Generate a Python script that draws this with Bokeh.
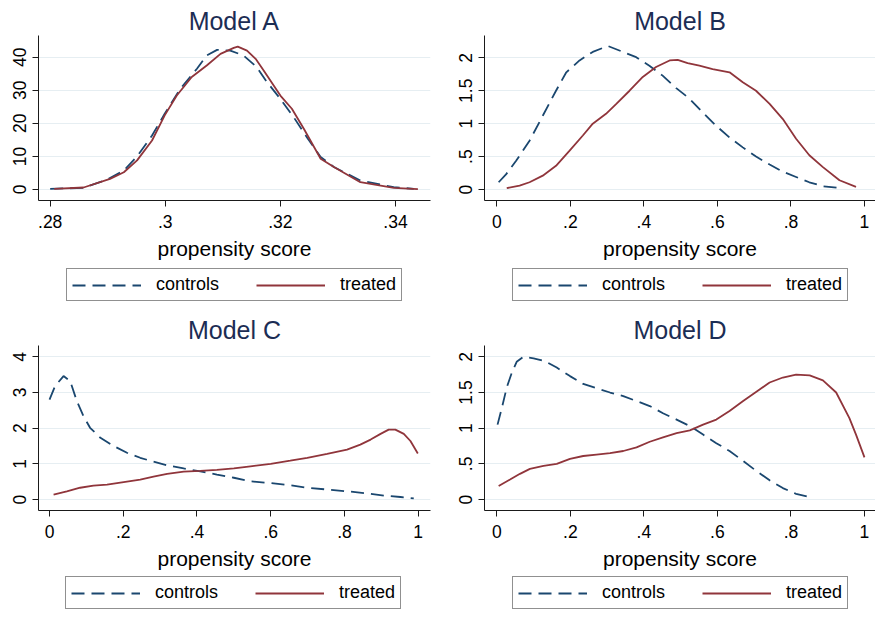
from bokeh.plotting import figure
from bokeh.layouts import gridplot
from bokeh.models import Legend, LegendItem, FixedTicker, Range1d
from bokeh.embed import file_html
from bokeh.resources import INLINE

FONT = "Liberation Sans"
NAVY = "#1a476f"
MAROON = "#90353b"
TITLE_COLOR = "#1c2d54"
GRID = "#e6eef2"
AXIS = "#1a1a1a"
LW = 1.8
DASH = "13 7"

titles = ["Model A", "Model B", "Model C", "Model D"]
x_axis_title = "propensity score"
legend_labels = ["controls", "treated"]

# ---- tick values / labels
a_x_ticks = [0.28, 0.30, 0.32, 0.34]
a_x_tick_labels = [".28", ".3", ".32", ".34"]
a_y_ticks = [0, 10, 20, 30, 40]
a_y_tick_labels = ["0", "10", "20", "30", "40"]
unit_x_ticks = [0, 0.2, 0.4, 0.6, 0.8, 1]
unit_x_tick_labels = ["0", ".2", ".4", ".6", ".8", "1"]
half_y_ticks = [0, 0.5, 1, 1.5, 2]
half_y_tick_labels = ["0", ".5", "1", "1.5", "2"]
c_y_ticks = [0, 1, 2, 3, 4]
c_y_tick_labels = ["0", "1", "2", "3", "4"]

# ---- Model A
a_ctrl_x = [0.2800, 0.2858, 0.2899, 0.2928, 0.2951, 0.2977, 0.2999, 0.3026, 0.3055, 0.3072,
            0.3090, 0.3113, 0.3136, 0.3159, 0.3177, 0.3200, 0.3223, 0.3246, 0.3270, 0.3293,
            0.3339, 0.3397, 0.3432]
a_ctrl_y = [0.2, 0.5, 3.0, 5.7, 10.0, 16.3, 22.9, 30.4, 36.5, 40.5,
            42.2, 42.0, 40.5, 37.0, 32.4, 27.4, 21.9, 15.8, 9.8, 6.8,
            2.7, 0.7, 0.2]
a_treat_x = [0.2807, 0.2858, 0.2904, 0.2928, 0.2951, 0.2977, 0.2999, 0.3020, 0.3046, 0.3072,
             0.3096, 0.3119, 0.3126, 0.3142, 0.3157, 0.3171, 0.3200, 0.3220, 0.3241, 0.3270,
             0.3293, 0.3339, 0.3397, 0.3439]
a_treat_y = [0.2, 0.6, 3.2, 5.2, 8.8, 14.8, 22.4, 28.4, 34.0, 37.5,
             41.0, 42.8, 43.2, 42.0, 39.5, 36.0, 28.4, 24.4, 18.3, 9.3,
             6.8, 2.2, 0.5, 0.1]

# ---- Model B
b_ctrl_x = [0.005, 0.025, 0.053, 0.089, 0.125, 0.161, 0.189, 0.225, 0.261, 0.302,
            0.343, 0.379, 0.415, 0.451, 0.488, 0.524, 0.560, 0.596, 0.633, 0.669,
            0.705, 0.742, 0.778, 0.814, 0.850, 0.887, 0.941]
b_ctrl_y = [0.11, 0.23, 0.44, 0.74, 1.12, 1.50, 1.78, 1.96, 2.09, 2.18,
            2.09, 2.01, 1.88, 1.73, 1.54, 1.38, 1.17, 0.97, 0.79, 0.64,
            0.50, 0.38, 0.27, 0.19, 0.11, 0.05, 0.02]
b_treat_x = [0.027, 0.062, 0.089, 0.125, 0.161, 0.198, 0.234, 0.261, 0.297, 0.325,
             0.361, 0.397, 0.433, 0.470, 0.492, 0.519, 0.551, 0.587, 0.633, 0.669,
             0.705, 0.742, 0.778, 0.814, 0.850, 0.887, 0.932, 0.977]
b_treat_y = [0.02, 0.06, 0.11, 0.21, 0.36, 0.59, 0.82, 1.00, 1.15, 1.30,
             1.50, 1.71, 1.86, 1.96, 1.97, 1.92, 1.88, 1.83, 1.78, 1.63,
             1.50, 1.30, 1.07, 0.77, 0.52, 0.34, 0.14, 0.04]

# ---- Model C
c_ctrl_x = [0.000, 0.015, 0.038, 0.056, 0.074, 0.092, 0.110, 0.138, 0.174, 0.210,
            0.246, 0.282, 0.319, 0.364, 0.409, 0.454, 0.500, 0.545, 0.600, 0.653,
            0.699, 0.753, 0.807, 0.862, 0.907, 0.952, 0.988]
c_ctrl_y = [2.80, 3.18, 3.46, 3.32, 2.76, 2.34, 2.01, 1.73, 1.50, 1.31,
            1.17, 1.06, 0.96, 0.87, 0.79, 0.70, 0.61, 0.51, 0.46, 0.40,
            0.33, 0.28, 0.23, 0.17, 0.11, 0.07, 0.03]
c_treat_x = [0.011, 0.047, 0.083, 0.119, 0.156, 0.201, 0.246, 0.282, 0.319, 0.364,
             0.409, 0.454, 0.500, 0.545, 0.600, 0.653, 0.699, 0.753, 0.807, 0.843,
             0.871, 0.898, 0.920, 0.938, 0.961, 0.979, 0.999]
c_treat_y = [0.14, 0.23, 0.33, 0.39, 0.42, 0.49, 0.56, 0.64, 0.72, 0.78,
             0.80, 0.83, 0.87, 0.93, 1.00, 1.09, 1.17, 1.28, 1.40, 1.54,
             1.68, 1.84, 1.96, 1.96, 1.84, 1.64, 1.29]

# ---- Model D
d_ctrl_x = [0.002, 0.014, 0.027, 0.041, 0.054, 0.072, 0.100, 0.131, 0.163, 0.199,
            0.235, 0.271, 0.308, 0.344, 0.380, 0.416, 0.452, 0.489, 0.525, 0.561,
            0.597, 0.633, 0.670, 0.706, 0.742, 0.778, 0.814, 0.855]
d_ctrl_y = [1.05, 1.29, 1.57, 1.78, 1.93, 2.00, 1.98, 1.94, 1.85, 1.73,
            1.62, 1.56, 1.50, 1.45, 1.38, 1.31, 1.21, 1.12, 1.03, 0.91,
            0.79, 0.68, 0.54, 0.40, 0.27, 0.16, 0.08, 0.03]
d_treat_x = [0.005, 0.036, 0.063, 0.090, 0.127, 0.163, 0.199, 0.235, 0.271, 0.308,
             0.344, 0.380, 0.416, 0.452, 0.489, 0.525, 0.561, 0.597, 0.633, 0.670,
             0.706, 0.742, 0.778, 0.814, 0.851, 0.887, 0.923, 0.959, 0.977, 1.000]
d_treat_y = [0.19, 0.28, 0.36, 0.43, 0.47, 0.50, 0.57, 0.61, 0.63, 0.65,
             0.68, 0.73, 0.81, 0.87, 0.93, 0.97, 1.05, 1.12, 1.24, 1.38,
             1.51, 1.64, 1.71, 1.75, 1.74, 1.67, 1.50, 1.14, 0.91, 0.59]


def panel(title, cx, cy, tx, ty, xr, yr, xt, xtl, yt, ytl,
          width, height, left, right, top, bottom, title_standoff):
    p = figure(width=width, height=height,
               x_range=Range1d(*xr), y_range=Range1d(*yr),
               output_backend="svg", toolbar_location=None,
               min_border_left=left, min_border_right=right,
               min_border_top=top, min_border_bottom=bottom,
               title=title)
    p.outline_line_color = None
    p.background_fill_color = "white"
    p.border_fill_color = "white"

    p.title.text_font = FONT
    p.title.text_font_size = "25px"
    p.title.text_font_style = "normal"
    p.title.text_color = TITLE_COLOR
    p.title.align = "center"
    p.title.standoff = title_standoff

    for ax in (p.xaxis[0], p.yaxis[0]):
        ax.axis_line_color = AXIS
        ax.axis_line_width = 1
        ax.major_tick_line_color = AXIS
        ax.major_tick_out = 6
        ax.major_tick_in = 0
        ax.minor_tick_line_color = None
        ax.major_label_text_font = FONT
        ax.major_label_text_font_size = "17.5px"
        ax.major_label_text_color = "black"

    p.xaxis.ticker = FixedTicker(ticks=xt)
    p.xaxis.major_label_overrides = {float(k): v for k, v in zip(xt, xtl)}
    p.xaxis.major_label_standoff = 8
    p.xaxis.axis_label = x_axis_title
    p.xaxis.axis_label_text_font = FONT
    p.xaxis.axis_label_text_font_size = "21px"
    p.xaxis.axis_label_text_font_style = "normal"
    p.xaxis.axis_label_text_color = "black"
    p.xaxis.axis_label_standoff = 6

    p.yaxis.ticker = FixedTicker(ticks=yt)
    p.yaxis.major_label_overrides = {float(k): v for k, v in zip(yt, ytl)}
    p.yaxis.major_label_orientation = "vertical"
    p.yaxis.major_label_standoff = 6

    p.xgrid.visible = False
    p.ygrid.ticker = FixedTicker(ticks=yt)
    p.ygrid.grid_line_color = GRID
    p.ygrid.grid_line_width = 1

    p.line(cx, cy, line_color=NAVY, line_width=LW, line_dash=DASH)
    p.line(tx, ty, line_color=MAROON, line_width=LW)
    return p


def legend_box(width, height, loc, cx, cy, tx, ty):
    # separate strip under each panel that carries only the legend
    q = figure(width=width, height=height, output_backend="svg",
               toolbar_location=None, x_axis_location=None, y_axis_location=None,
               min_border_left=0, min_border_right=0, min_border_top=0,
               min_border_bottom=0)
    q.outline_line_color = None
    q.background_fill_color = "white"
    q.border_fill_color = "white"
    q.xgrid.visible = False
    q.ygrid.visible = False
    rc = q.line(cx, cy, line_color=NAVY, line_width=LW, line_dash=DASH, visible=False)
    rt = q.line(tx, ty, line_color=MAROON, line_width=LW, visible=False)
    leg = Legend(items=[LegendItem(label=legend_labels[0], renderers=[rc]),
                        LegendItem(label=legend_labels[1], renderers=[rt])],
                 orientation="horizontal", location=loc)
    leg.click_policy = "none"
    leg.inactive_fill_alpha = 0
    leg.border_line_color = "#222222"
    leg.border_line_width = 1
    leg.background_fill_color = "white"
    leg.background_fill_alpha = 1
    leg.label_text_font = FONT
    leg.label_text_font_size = "18px"
    leg.label_text_line_height = 1.0
    leg.label_text_color = "black"
    leg.glyph_width = 69
    leg.glyph_height = 18
    leg.label_height = 18
    leg.label_standoff = 15
    leg.spacing = 37
    leg.padding = 5
    leg.margin = 0
    q.add_layout(leg)
    return q


pA = panel(titles[0], a_ctrl_x, a_ctrl_y, a_treat_x, a_treat_y,
           (0.27797, 0.34609), (-3.33, 46.55),
           a_x_ticks, a_x_tick_labels, a_y_ticks, a_y_tick_labels,
           440, 265, 38, 10, 35, 65, 2)
pB = panel(titles[1], b_ctrl_x, b_ctrl_y, b_treat_x, b_treat_y,
           (-0.0335, 1.030), (-0.167, 2.339),
           unit_x_ticks, unit_x_tick_labels, half_y_ticks, half_y_tick_labels,
           435, 265, 44, 0, 35, 65, 2)
pC = panel(titles[2], c_ctrl_x, c_ctrl_y, c_treat_x, c_treat_y,
           (-0.0299, 1.0334), (-0.308, 4.317),
           unit_x_ticks, unit_x_tick_labels, c_y_ticks, c_y_tick_labels,
           440, 269, 38, 10, 40, 64, 4)
pD = panel(titles[3], d_ctrl_x, d_ctrl_y, d_treat_x, d_treat_y,
           (-0.0335, 1.030), (-0.154, 2.159),
           unit_x_ticks, unit_x_tick_labels, half_y_ticks, half_y_tick_labels,
           435, 269, 44, 0, 40, 64, 4)

lA = legend_box(440, 40, (28, 4), a_ctrl_x, a_ctrl_y, a_treat_x, a_treat_y)
lB = legend_box(435, 40, (28, 4), b_ctrl_x, b_ctrl_y, b_treat_x, b_treat_y)
lC = legend_box(440, 36, (27, 1), c_ctrl_x, c_ctrl_y, c_treat_x, c_treat_y)
lD = legend_box(435, 36, (28, 1), d_ctrl_x, d_ctrl_y, d_treat_x, d_treat_y)

grid = gridplot([[pA, pB], [lA, lB], [pC, pD], [lC, lD]], toolbar_location=None)
open("out.html", "w").write(file_html(grid, INLINE))
